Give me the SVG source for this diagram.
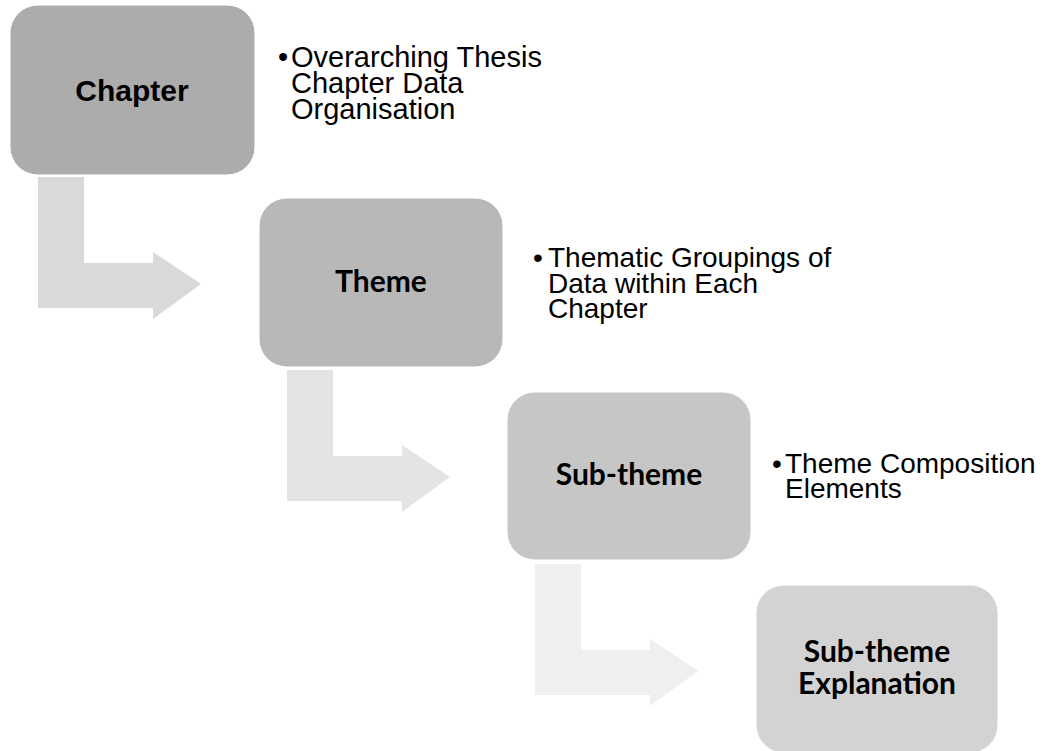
<svg xmlns="http://www.w3.org/2000/svg" width="1048" height="751" viewBox="0 0 1048 751">
  <style>
    .box { stroke: #ffffff; stroke-width: 1; }
    .lbl-a { font-family: "Liberation Sans", Arial, sans-serif; font-weight: bold; font-size: 30px; fill: #000; text-anchor: middle; }
    .lbl-c { font-family: Lato, "Open Sans", sans-serif; font-weight: bold; font-size: 30px; fill: #000; text-anchor: middle; }
    .desc { font-family: "Liberation Sans", Arial, sans-serif; font-size: 28px; fill: #000; }
    .desc-l { font-size: 29px; }
  </style>
  <defs>
    <path id="bent" d="M0,0 H46 V86 H115 V75 L163,107 L115,142 V131 H0 Z"/>
  </defs>
  <rect width="1048" height="751" fill="#ffffff"/>
  <g id="connectors">
    <use href="#bent" x="38" y="177" fill="#d9d9d9"/>
    <use href="#bent" x="287" y="370" fill="#e4e4e4"/>
    <use href="#bent" x="535" y="564" fill="#efefef"/>
  </g>
  <g id="node-chapter">
    <rect class="box" x="10" y="5" width="245" height="170" rx="28" fill="#acacac"/>
    <text class="lbl-a" x="132" y="100.5">Chapter</text>
  </g>
  <g id="desc-chapter">
    <text class="desc desc-l"><tspan x="278" y="67">•</tspan><tspan x="291" y="67">Overarching Thesis</tspan><tspan x="291" y="93">Chapter Data</tspan><tspan x="291" y="119">Organisation</tspan></text>
  </g>
  <g id="node-theme">
    <rect class="box" x="259" y="198" width="244" height="169" rx="28" fill="#b8b8b8"/>
    <text class="lbl-c" x="381" y="292">Theme</text>
  </g>
  <g id="desc-theme">
    <text class="desc"><tspan x="533" y="267">•</tspan><tspan x="548" y="267">Thematic Groupings of</tspan><tspan x="548" y="293">Data within Each</tspan><tspan x="548" y="318">Chapter</tspan></text>
  </g>
  <g id="node-subtheme">
    <rect class="box" x="507" y="392" width="244" height="168" rx="28" fill="#c6c6c6"/>
    <text class="lbl-c" x="629" y="485">Sub-theme</text>
  </g>
  <g id="desc-subtheme">
    <text class="desc"><tspan x="772" y="473">•</tspan><tspan x="785" y="473">Theme Composition</tspan><tspan x="785" y="498">Elements</tspan></text>
  </g>
  <g id="node-explanation">
    <rect class="box" x="756" y="585" width="242" height="168" rx="28" fill="#d3d3d3"/>
    <text class="lbl-c" x="877"><tspan x="877" y="662">Sub-theme</tspan><tspan x="877" y="694">Explanation</tspan></text>
  </g>
</svg>
